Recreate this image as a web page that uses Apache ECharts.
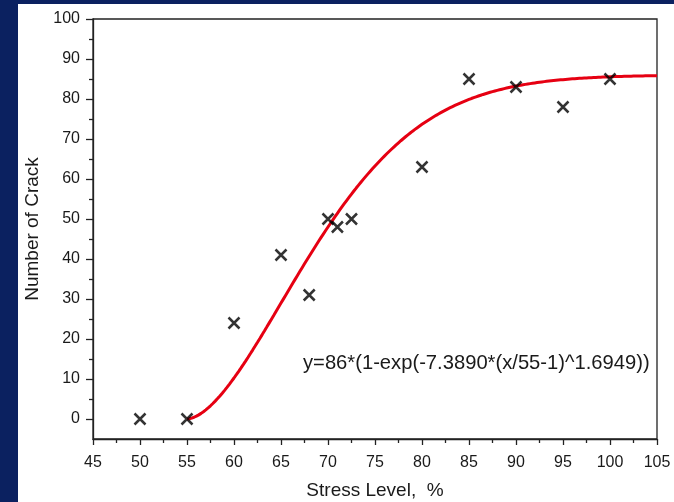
<!DOCTYPE html>
<html>
<head>
<meta charset="utf-8">
<script src="https://cdn.jsdelivr.net/npm/echarts@6/dist/echarts.min.js"></script>
<style>
  html, body { margin: 0; padding: 0; background: #0b2160; }
  #chart { width: 674px; height: 502px; }
</style>
</head>
<body>
<div id="chart"></div>
<script>
// Measured crack counts at each stress level
const stressLevels = [50, 55, 60, 65, 68, 70, 71, 72.5, 80, 85, 90, 95, 100];
const crackCounts  = [0, 0, 24, 41, 31, 50, 48, 50, 63, 85, 83, 78, 85];

// Fitted Weibull-type curve parameters: y = A*(1-exp(-k*(x/x0-1)^p))
const fitA = 86;
const fitK = 7.3890;
const fitX0 = 55;
const fitP = 1.6949;
const fitRange = [55, 105];

// Axis tick values
const xTicks = [45, 50, 55, 60, 65, 70, 75, 80, 85, 90, 95, 100, 105];
const yMajorTicks = [0, 10, 20, 30, 40, 50, 60, 70, 80, 90, 100];
const yMinorTicks = [5, 15, 25, 35, 45, 55, 65, 75, 85, 95];

const fitCurve = [];
for (let x = fitRange[0]; x <= fitRange[1] + 1e-9; x += 0.25) {
  const t = Math.max(x / fitX0 - 1, 0);
  fitCurve.push([x, fitA * (1 - Math.exp(-fitK * Math.pow(t, fitP)))]);
}
const equationText = 'y=' + fitA + '*(1-exp(-' + fitK.toFixed(4) + '*(x/' + fitX0 + '-1)^' + fitP.toFixed(4) + '))';

const font = '"Liberation Sans", Arial, sans-serif';
const ink = '#1a1a1a';

const chart = echarts.init(document.getElementById('chart'), null, { renderer: 'canvas' });
chart.setOption({
  backgroundColor: '#0b2160',
  animation: false,
  graphic: [
    { type: 'rect', z: -10, shape: { x: 18, y: 4, width: 660, height: 502 }, style: { fill: '#ffffff' } },
    { type: 'text', z: 10, left: 303, top: 353,
      style: { text: equationText, font: '20.2px ' + font, fill: ink } }
  ],
  grid: {
    left: 93, top: 19, right: 17, bottom: 63, outerBoundsMode: 'none', containLabel: false,
    show: true, borderColor: '#222', borderWidth: 1.3, backgroundColor: 'transparent'
  },
  xAxis: {
    type: 'value', min: 45, max: 105, interval: 5,
    name: 'Stress Level,  %', nameLocation: 'middle', nameGap: 42,
    nameTextStyle: { fontFamily: font, fontSize: 19, color: ink },
    axisLine: { show: true, onZero: false, lineStyle: { color: '#222', width: 1.3 } },
    axisTick: { show: true, inside: false, length: 6, lineStyle: { color: '#222', width: 1.3 } },
    minorTick: { show: true, splitNumber: 2, length: 4, lineStyle: { color: '#222', width: 1.3 } },
    axisLabel: { fontFamily: font, fontSize: 16, color: ink, margin: 16,
      formatter: v => xTicks.includes(v) ? String(v) : '' },
    splitLine: { show: false }
  },
  yAxis: [
    {
      type: 'value', min: -5, max: 100,
      name: 'Number of Crack', nameLocation: 'middle', nameGap: 50, nameRotate: 90,
      nameTextStyle: { fontFamily: font, fontSize: 19, color: ink },
      axisLine: { show: true, onZero: false, lineStyle: { color: '#222', width: 1.3 } },
      axisTick: { show: true, inside: false, length: 7, customValues: yMajorTicks, lineStyle: { color: '#222', width: 1.3 } },
      axisLabel: { fontFamily: font, fontSize: 16, color: ink, margin: 13, customValues: yMajorTicks },
      splitLine: { show: false }
    },
    {
      type: 'value', min: -5, max: 100, position: 'left',
      axisLine: { show: false },
      axisTick: { show: true, inside: false, length: 4, customValues: yMinorTicks, lineStyle: { color: '#222', width: 1.3 } },
      axisLabel: { show: false },
      splitLine: { show: false }
    }
  ],
  series: [
    {
      type: 'line', yAxisIndex: 0, data: fitCurve, showSymbol: false, smooth: false,
      lineStyle: { color: '#e60012', width: 3 }, z: 2
    },
    {
      type: 'scatter', yAxisIndex: 0,
      data: stressLevels.map((x, i) => [x, crackCounts[i]]),
      symbol: 'path://M0,0L10,10M10,0L0,10', symbolSize: 11,
      itemStyle: { color: 'transparent', borderColor: '#000', borderWidth: 2.5 }, z: 3
    }
  ]
});
</script>
</body>
</html>
